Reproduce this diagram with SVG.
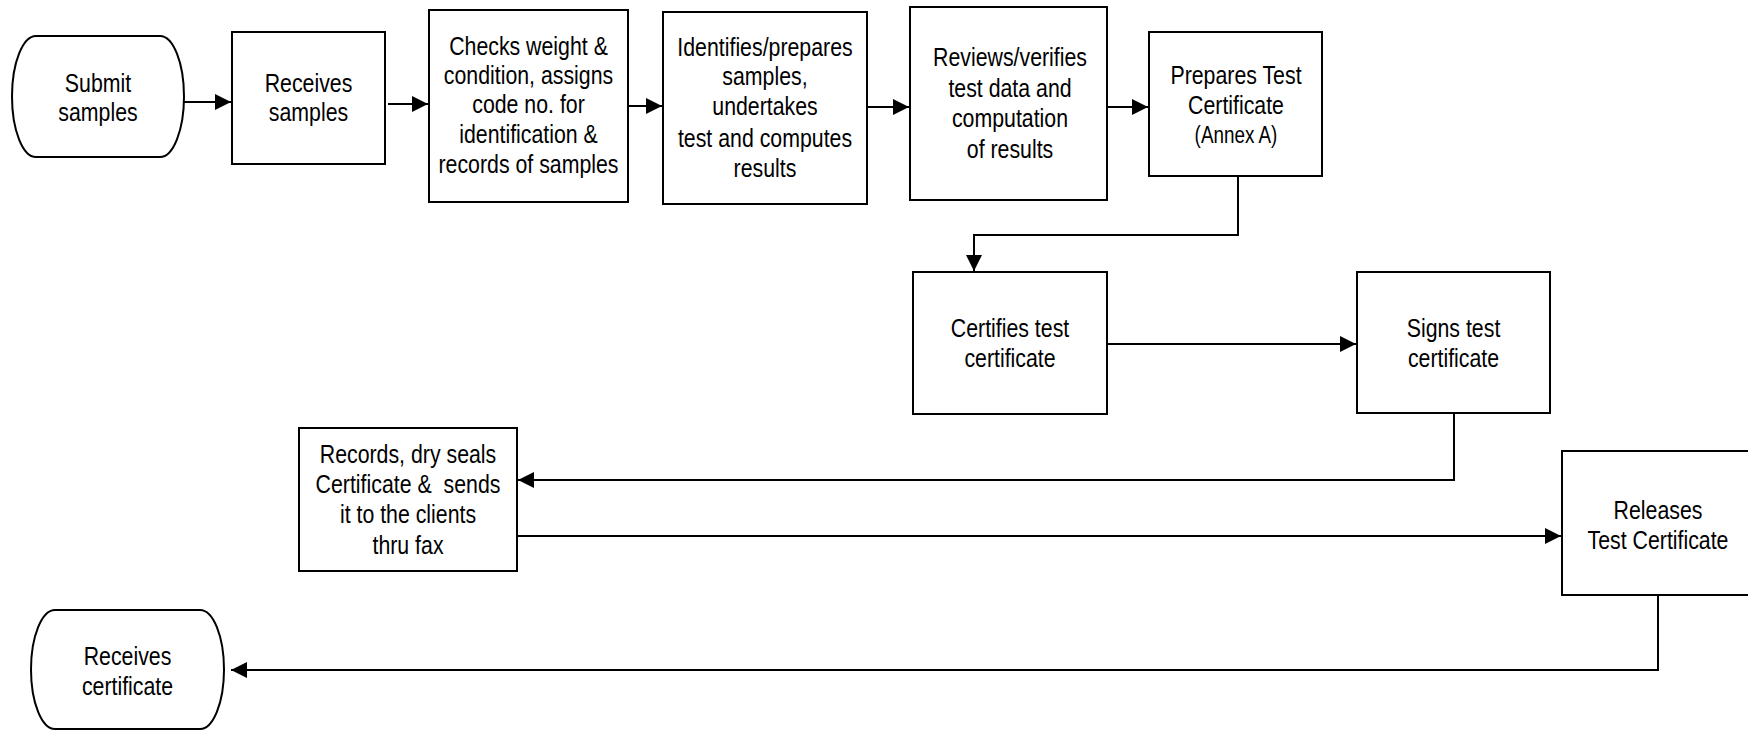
<svg xmlns="http://www.w3.org/2000/svg" width="1748" height="730" viewBox="0 0 1748 730">
<style>
.box{fill:#fff;stroke:#000;stroke-width:2}
.lbl{font-family:"Liberation Sans",Arial,sans-serif;font-size:26px;fill:#000;text-anchor:middle;white-space:pre}
.sm{font-size:23px}
.con{fill:none;stroke:#000;stroke-width:2}
</style>
<defs>
<marker id="ah" markerUnits="userSpaceOnUse" markerWidth="17" markerHeight="17" refX="16" refY="8" orient="auto">
<path d="M0,0 L16,8 L0,16 Z" fill="#000"/>
</marker>
</defs>
<rect width="1748" height="730" fill="#fff"/>
<g id="connectors">
<path class="con" d="M180 102 H231" marker-end="url(#ah)"/>
<path class="con" d="M388 104 H428" marker-end="url(#ah)"/>
<path class="con" d="M627 106 H662" marker-end="url(#ah)"/>
<path class="con" d="M866 107 H909" marker-end="url(#ah)"/>
<path class="con" d="M1106 107 H1148" marker-end="url(#ah)"/>
<path class="con" d="M1238 176 V235 H974 V271" marker-end="url(#ah)"/>
<path class="con" d="M1107 344 H1356" marker-end="url(#ah)"/>
<path class="con" d="M1454 414 V480 H518" marker-end="url(#ah)"/>
<path class="con" d="M517 536 H1561" marker-end="url(#ah)"/>
<path class="con" d="M1658 596 V670 H231" marker-end="url(#ah)"/>
</g>
<g id="submit">
<path class="box" d="M36 36 H160 A24 60.5 0 0 1 160 157 H36 A24 60.5 0 0 1 36 36 Z"/>
<text class="lbl" transform="matrix(0.82 0 0 1 98 0)"><tspan x="0" y="92">Submit</tspan><tspan x="0" y="121">samples</tspan></text>
</g>
<g id="receives-samples">
<rect class="box" x="232" y="32" width="153" height="132"/>
<text class="lbl" transform="matrix(0.82 0 0 1 308.5 0)"><tspan x="0" y="92">Receives</tspan><tspan x="0" y="121">samples</tspan></text>
</g>
<g id="checks">
<rect class="box" x="429" y="10" width="199" height="192"/>
<text class="lbl" transform="matrix(0.82 0 0 1 528.5 0)"><tspan x="0" y="55">Checks weight &amp;</tspan><tspan x="0" y="84">condition, assigns</tspan><tspan x="0" y="113">code no. for</tspan><tspan x="0" y="143">identification &amp;</tspan><tspan x="0" y="173">records of samples</tspan></text>
</g>
<g id="identifies">
<rect class="box" x="663" y="12" width="204" height="192"/>
<text class="lbl" transform="matrix(0.82 0 0 1 765 0)"><tspan x="0" y="56">Identifies/prepares</tspan><tspan x="0" y="85">samples,</tspan><tspan x="0" y="115">undertakes</tspan><tspan x="0" y="147">test and computes</tspan><tspan x="0" y="177">results</tspan></text>
</g>
<g id="reviews">
<rect class="box" x="910" y="7" width="197" height="193"/>
<text class="lbl" transform="matrix(0.82 0 0 1 1010 0)"><tspan x="0" y="66">Reviews/verifies</tspan><tspan x="0" y="97">test data and</tspan><tspan x="0" y="127">computation</tspan><tspan x="0" y="158">of results</tspan></text>
</g>
<g id="prepares">
<rect class="box" x="1149" y="32" width="173" height="144"/>
<text class="lbl" transform="matrix(0.82 0 0 1 1236 0)"><tspan x="0" y="84">Prepares Test</tspan><tspan x="0" y="114">Certificate</tspan><tspan class="sm" x="0" y="143">(Annex A)</tspan></text>
</g>
<g id="certifies">
<rect class="box" x="913" y="272" width="194" height="142"/>
<text class="lbl" transform="matrix(0.82 0 0 1 1010 0)"><tspan x="0" y="337">Certifies test</tspan><tspan x="0" y="367">certificate</tspan></text>
</g>
<g id="signs">
<rect class="box" x="1357" y="272" width="193" height="141"/>
<text class="lbl" transform="matrix(0.82 0 0 1 1453.5 0)"><tspan x="0" y="337">Signs test</tspan><tspan x="0" y="367">certificate</tspan></text>
</g>
<g id="records">
<rect class="box" x="299" y="428" width="218" height="143"/>
<text class="lbl" transform="matrix(0.82 0 0 1 408 0)"><tspan x="0" y="463">Records, dry seals</tspan><tspan x="0" y="493">Certificate &amp;  sends</tspan><tspan x="0" y="523">it to the clients</tspan><tspan x="0" y="554">thru fax</tspan></text>
</g>
<g id="releases">
<rect class="box" x="1562" y="451" width="192" height="144"/>
<text class="lbl" transform="matrix(0.82 0 0 1 1658 0)"><tspan x="0" y="519">Releases</tspan><tspan x="0" y="549">Test Certificate</tspan></text>
</g>
<g id="receives-certificate">
<path class="box" d="M55 610 H200 A24 59.5 0 0 1 200 729 H55 A24 59.5 0 0 1 55 610 Z"/>
<text class="lbl" transform="matrix(0.82 0 0 1 127.5 0)"><tspan x="0" y="665">Receives</tspan><tspan x="0" y="695">certificate</tspan></text>
</g>
</svg>
